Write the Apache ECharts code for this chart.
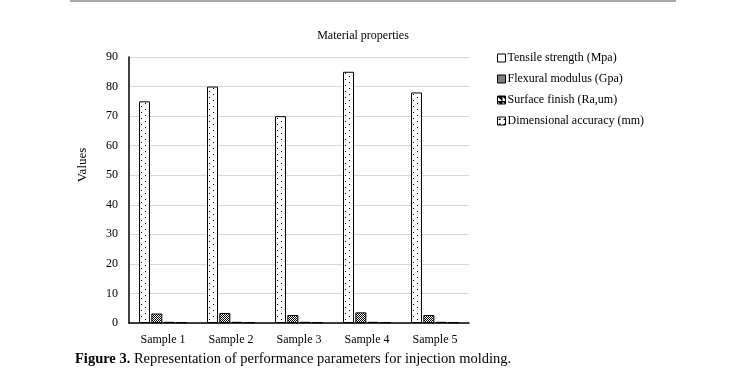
<!DOCTYPE html>
<html lang="en">
<head>
    <meta charset="UTF-8">
    <title>Material properties</title>
    <script src="https://cdn.jsdelivr.net/npm/echarts@6/dist/echarts.min.js"></script>
    <style>
        html, body { margin: 0; padding: 0; background: #fff; }
    </style>
</head>
<body>
<div id="chart" style="width: 731px; height: 389px;"></div>
<script>
    var samples = ['Sample 1', 'Sample 2', 'Sample 3', 'Sample 4', 'Sample 5'];
    var tensile = [75, 80, 70, 85, 78];
    var flexural = [3.2, 3.4, 2.7, 3.6, 2.7];
    var surface = [0.4, 0.4, 0.4, 0.4, 0.4];
    var dimensional = [0.3, 0.3, 0.3, 0.3, 0.3];
    var seriesNames = ['Tensile strength (Mpa)', 'Flexural modulus (Gpa)', 'Surface finish (Ra,um)', 'Dimensional accuracy (mm)'];

    var serif = '"Liberation Serif", "Times New Roman", serif';

    // small repeating fill patterns
    function pattern(w, h, dots, bg, fg) {
        var c = document.createElement('canvas');
        c.width = w; c.height = h;
        var ctx = c.getContext('2d');
        ctx.fillStyle = bg || '#fff';
        ctx.fillRect(0, 0, w, h);
        ctx.fillStyle = fg || '#000';
        dots.forEach(function (d) { ctx.fillRect(d[0], d[1], 1, 1); });
        return { image: c, repeat: 'repeat' };
    }

    var fills = [
        pattern(8, 6, [[1, 1], [5, 4]]),
        pattern(2, 2, [[0, 0], [1, 1]]),
        pattern(4, 4, [[3, 0]], '#000', '#fff'),
        pattern(3, 3, [[1, 1]])
    ];
    var legendFills = [
        '#fff',
        pattern(2, 2, [[0, 0], [1, 1]]),
        pattern(5, 5, [[0, 0], [1, 0], [2, 0], [3, 0], [4, 0], [1, 1], [2, 1], [3, 1], [4, 1], [2, 2], [3, 2], [4, 2], [3, 3], [4, 3], [4, 4]]),
        pattern(5, 5, [[2, 2], [1, 2], [2, 1]])
    ];
    var data = [tensile, flexural, surface, dimensional];

    var chart = echarts.init(document.getElementById('chart'));
    chart.setOption({
        animation: false,
        textStyle: { fontFamily: serif },
        title: {
            text: 'Material properties',
            left: 358,
            textAlign: 'center',
            top: 25,
            textStyle: { fontFamily: serif, fontSize: 12, fontWeight: 'normal', color: '#000' }
        },
        legend: {
            orient: 'vertical',
            left: 492,
            top: 47,
            itemWidth: 8,
            itemHeight: 8,
            itemGap: 9,
            icon: 'rect',
            textStyle: { fontFamily: serif, fontSize: 12, color: '#000', padding: [0, 0, 0, -3] },
            data: seriesNames.map(function (n, i) {
                return { name: n, itemStyle: { color: legendFills[i], borderColor: '#000', borderWidth: 1 } };
            })
        },
        grid: { left: 129, right: 262, top: 57, bottom: 66 },
        xAxis: {
            type: 'category',
            data: samples,
            axisLine: { lineStyle: { color: '#000', width: 1.5 } },
            axisTick: { show: false },
            axisLabel: { color: '#000', fontFamily: serif, fontSize: 12, margin: 11 }
        },
        yAxis: {
            type: 'value',
            min: 0,
            max: 90,
            interval: 10,
            axisLine: { show: true, lineStyle: { color: '#000', width: 1.5 } },
            axisTick: { show: false },
            axisLabel: { color: '#000', fontFamily: serif, fontSize: 12, margin: 11 },
            splitLine: { lineStyle: { color: '#d9d9d9' } }
        },
        series: seriesNames.map(function (name, i) {
            return {
                name: name,
                type: 'bar',
                data: data[i],
                barWidth: 11,
                barGap: '12%',
                itemStyle: { color: fills[i], borderColor: '#000', borderWidth: 1 }
            };
        }),
        graphic: [
            {
                type: 'line',
                shape: { x1: 70, y1: 1, x2: 676, y2: 1 },
                style: { stroke: '#8c8c8c', lineWidth: 1.5 }
            },
            {
                type: 'text',
                x: 83,
                y: 165,
                rotation: Math.PI / 2,
                style: {
                    text: 'Values',
                    font: '13px ' + serif,
                    fill: '#000',
                    align: 'center',
                    verticalAlign: 'middle'
                }
            },
            {
                type: 'text',
                left: 75,
                top: 352,
                style: {
                    text: '{b|Figure 3.} Representation of performance parameters for injection molding.',
                    rich: {
                        b: { fontFamily: serif, fontSize: 14.5, fontWeight: 'bold', fill: '#000' }
                    },
                    font: '14.5px ' + serif,
                    fill: '#000'
                }
            }
        ]
    });
</script>
</body>
</html>
